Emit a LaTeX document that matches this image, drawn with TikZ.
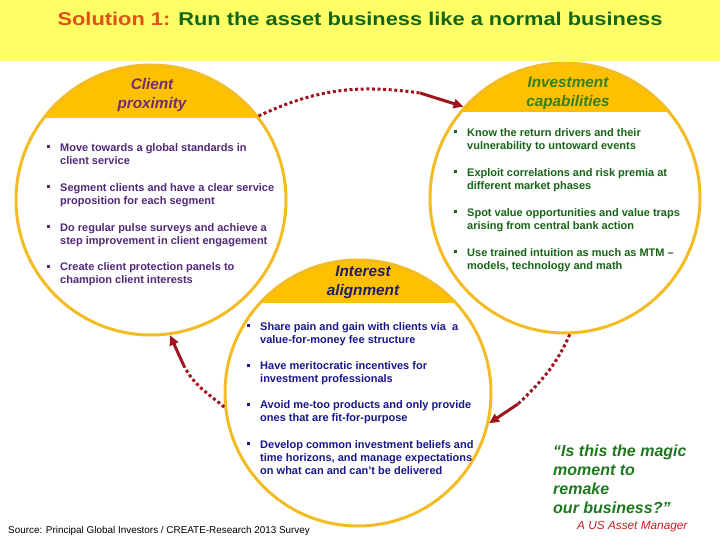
\documentclass[tikz,border=0pt]{standalone}
\usepackage{fontspec}
\setmainfont{Liberation Sans}
\newfontfamily\titlefont[FakeStretch=1.18]{Liberation Sans}
\usetikzlibrary{arrows.meta}
\definecolor{bandyellow}{RGB}{255,255,102}
\definecolor{capfill}{RGB}{255,192,0}
\definecolor{ringcol}{RGB}{244,188,36}
\definecolor{arrowred}{RGB}{160,20,30}
\definecolor{titlered}{RGB}{224,80,24}
\definecolor{titlegreen}{RGB}{20,102,20}
\definecolor{lpurple}{RGB}{112,46,112}
\definecolor{lbody}{RGB}{82,40,120}
\definecolor{rgreen}{RGB}{52,128,30}
\definecolor{rbody}{RGB}{22,100,22}
\definecolor{mnavy}{RGB}{32,30,100}
\definecolor{mbody}{RGB}{24,24,140}
\definecolor{quotegreen}{RGB}{30,120,30}
\definecolor{quotered}{RGB}{200,30,36}
\newcommand{\sqbul}{\llap{\rule[3pt]{3pt}{3pt}\hspace{10pt}}}
\tikzset{
  ring/.style={circle, draw=ringcol, line width=3pt, minimum size=270pt, inner sep=0pt},
  caplabel/.style={anchor=base, align=center, font=\fontsize{15.3}{19}\selectfont\bfseries\itshape},
  itembox/.style={anchor=base west, align=left, inner sep=0pt, font=\fontsize{11}{13.3}\selectfont\bfseries},
  dotline/.style={draw=arrowred, line width=3pt, dash pattern=on 3pt off 2.6pt},
  solidarrow/.style={draw=arrowred, line width=3pt, -{Triangle[length=10pt,width=9pt]}}
}
\begin{document}
\begin{tikzpicture}[x=1pt,y=-1pt]
\useasboundingbox (0,0) rectangle (720,540);
\fill[white] (0,0) rectangle (720,540);
% title band
\fill[bandyellow] (0,0) rectangle (720,61);
\node[anchor=base, inner sep=0pt, font=\titlefont\fontsize{18.5}{22}\selectfont\bfseries] (title) at (360,26)
  {\textcolor{titlered}{Solution 1:} \textcolor{titlegreen}{Run the asset business like a normal business}};
% caps
\begin{scope}
  \clip (0,0) rectangle (720,118);
  \fill[capfill] (151,200) circle[radius=135];
\end{scope}
\begin{scope}
  \clip (0,0) rectangle (720,112);
  \fill[capfill] (565,198) circle[radius=135];
\end{scope}
\begin{scope}
  \clip (0,0) rectangle (720,302);
  \fill[capfill] (358,393) circle[radius=133];
\end{scope}
% rings
\node[ring] (L) at (151,200) {};
\node[ring] (R) at (565,198) {};
\node[ring, minimum size=266pt] (M) at (358,393) {};
% cap labels
\node[caplabel, text=lpurple] (Lcap) at (152,109) {Client\\proximity};
\node[caplabel, text=rgreen] (Rcap) at (568,107) {Investment\\capabilities};
\node[caplabel, text=mnavy] (Mcap) at (363,295) {Interest\\alignment};
% arrows
\coordinate (a1m) at (420,93);
\draw[dotline] (L.38) to[out=25,in=172] (a1m);
\draw[solidarrow] (a1m) -- (R.138);
\coordinate (a2m) at (518,404);
\draw[dotline] (R.-88) to[out=-114,in=44] (a2m);
\draw[solidarrow] (a2m) -- (M.-13);
\coordinate (a3m) at (184,366);
\draw[dotline] (M.186) to[out=140,in=-62] (a3m);
\draw[solidarrow] (a3m) -- (L.-82);
% left items
\node[itembox, text=lbody] (l1) at (60,164.8) {\sqbul Move towards a global standards in\\client service};
\node[itembox, text=lbody] (l2) at (60,204.8) {\sqbul Segment clients and have a clear service\\proposition for each segment};
\node[itembox, text=lbody] (l3) at (60,244.3) {\sqbul Do regular pulse surveys and achieve a\\step improvement in client engagement};
\node[itembox, text=lbody] (l4) at (60,283.8) {\sqbul Create client protection panels to\\champion client interests};
% right items
\node[itembox, text=rbody] (r1) at (467,149.8) {\sqbul Know the return drivers and their\\vulnerability to untoward events};
\node[itembox, text=rbody] (r2) at (467,189.8) {\sqbul Exploit correlations and risk premia at\\different market phases};
\node[itembox, text=rbody] (r3) at (467,229.3) {\sqbul Spot value opportunities and value traps\\arising from central bank action};
\node[itembox, text=rbody] (r4) at (467,269.3) {\sqbul Use trained intuition as much as MTM --\\models, technology and math};
% middle items
\node[itembox, text=mbody] (m1) at (260,343.3) {\sqbul Share pain and gain with clients via\ \ a\\value-for-money fee structure};
\node[itembox, text=mbody] (m2) at (260,382.8) {\sqbul Have meritocratic incentives for\\investment professionals};
\node[itembox, text=mbody] (m3) at (260,421.8) {\sqbul Avoid me-too products and only provide\\ones that are fit-for-purpose};
\node[itembox, text=mbody] (m4) at (260,474.6) {\sqbul Develop common investment beliefs and\\time horizons, and manage expectations\\on what can and can't be delivered};
% quote
\node[anchor=base west, align=left, inner sep=0pt, text=quotegreen, font=\fontsize{16}{19}\selectfont\bfseries\itshape] (quote) at (553,513)
  {“Is this the magic\\moment to\\remake\\our business?”};
\node[anchor=base west, inner sep=0pt, text=quotered, font=\fontsize{11.8}{13}\selectfont\itshape] (who) at (577,529) {A US Asset Manager};
% source
\node[anchor=base west, inner sep=0pt, font=\fontsize{9.9}{11}\selectfont] (src) at (8,533) {Source: Principal Global Investors / CREATE-Research 2013 Survey};
\end{tikzpicture}
\end{document}
